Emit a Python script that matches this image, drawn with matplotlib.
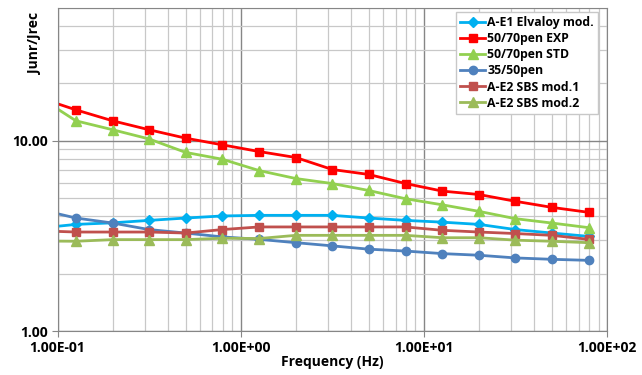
import numpy as np
import matplotlib.pyplot as plt
from matplotlib.ticker import FixedLocator, NullFormatter, FixedFormatter

plt.rcParams['font.family'] = ['Open Sans', 'DejaVu Sans']

# frequencies (Hz); first point lies just left of the visible range
freq = [0.0794, 0.126, 0.2, 0.316, 0.5, 0.794, 1.26, 2.0, 3.16, 5.0, 7.94,
        12.6, 20.0, 31.6, 50.0, 79.4]

elvaloy = [3.47, 3.63, 3.70, 3.81, 3.92, 4.02, 4.05, 4.05, 4.05, 3.92, 3.81,
           3.73, 3.63, 3.41, 3.27, 3.14]
pen5070_exp = [16.8, 14.5, 12.7, 11.4, 10.3, 9.5, 8.76, 8.15, 7.05, 6.64, 5.95,
               5.43, 5.21, 4.80, 4.46, 4.20]
pen5070_std = [16.9, 12.7, 11.4, 10.2, 8.67, 7.98, 6.96, 6.32, 5.95, 5.47, 4.95,
               4.60, 4.25, 3.89, 3.69, 3.49]
pen3550 = [4.35, 3.92, 3.69, 3.41, 3.27, 3.12, 3.03, 2.91, 2.80, 2.69, 2.63,
           2.55, 2.50, 2.42, 2.38, 2.35]
sbs1 = [3.36, 3.31, 3.31, 3.31, 3.27, 3.41, 3.52, 3.52, 3.52, 3.52, 3.52,
        3.38, 3.31, 3.25, 3.18, 3.03]
sbs2 = [2.97, 2.96, 3.02, 3.02, 3.02, 3.07, 3.06, 3.18, 3.18, 3.18, 3.18,
        3.09, 3.09, 3.00, 2.96, 2.91]

fig = plt.figure(figsize=(6.42, 3.75), dpi=100)
ax = fig.add_axes([0.0897, 0.1173, 0.8558, 0.8627])

ax.plot(freq, elvaloy, color='#00B0F0', marker='D', ms=5, lw=2, label='A-E1 Elvaloy mod.')
ax.plot(freq, pen5070_exp, color='#FF0000', marker='s', ms=6, lw=2, label='50/70pen EXP')
ax.plot(freq, pen5070_std, color='#92D050', marker='^', ms=7, lw=2, label='50/70pen STD')
ax.plot(freq, pen3550, color='#4F81BD', marker='o', ms=6, lw=2, label='35/50pen')
ax.plot(freq, sbs1, color='#C0504D', marker='s', ms=6, lw=2, label='A-E2 SBS mod.1')
ax.plot(freq, sbs2, color='#9BBB59', marker='^', ms=7, lw=2, label='A-E2 SBS mod.2')

ax.set_xscale('log')
ax.set_yscale('log')
ax.set_xlim(0.1, 100)
ax.set_ylim(1, 50)

ax.xaxis.set_major_locator(FixedLocator([0.1, 1, 10, 100]))
ax.xaxis.set_major_formatter(FixedFormatter(['1.00E-01', '1.00E+00', '1.00E+01', '1.00E+02']))
ax.xaxis.set_minor_formatter(NullFormatter())
ax.yaxis.set_major_locator(FixedLocator([1, 10]))
ax.yaxis.set_major_formatter(FixedFormatter(['1.00', '10.00']))
ax.yaxis.set_minor_formatter(NullFormatter())

ax.grid(which='major', color='#868686', lw=1.0)
ax.grid(which='minor', color='#C8C8C8', lw=0.9)
ax.set_axisbelow(True)
for s in ax.spines.values():
    s.set_color('#868686')
ax.tick_params(which='major', length=4, color='#868686', labelsize=10, pad=3)
ax.tick_params(which='minor', length=0)
for t in ax.get_xticklabels() + ax.get_yticklabels():
    t.set_fontweight('bold')

ax.set_xlabel('Frequency (Hz)', fontsize=10, fontweight='bold', labelpad=0)
ax.set_ylabel('Junr/Jrec', fontsize=10, fontweight='bold')
ax.yaxis.set_label_coords(-0.028, 0.89)

leg = ax.legend(loc='upper right', bbox_to_anchor=(0.984, 0.986), borderaxespad=0,
                prop={'weight': 'bold', 'size': 8.8}, numpoints=1, handlelength=2,
                fancybox=False, framealpha=1, edgecolor='#C8C8C8',
                borderpad=0.35, labelspacing=0.25, handletextpad=0.2)

fig.savefig('out.png', dpi=100)
